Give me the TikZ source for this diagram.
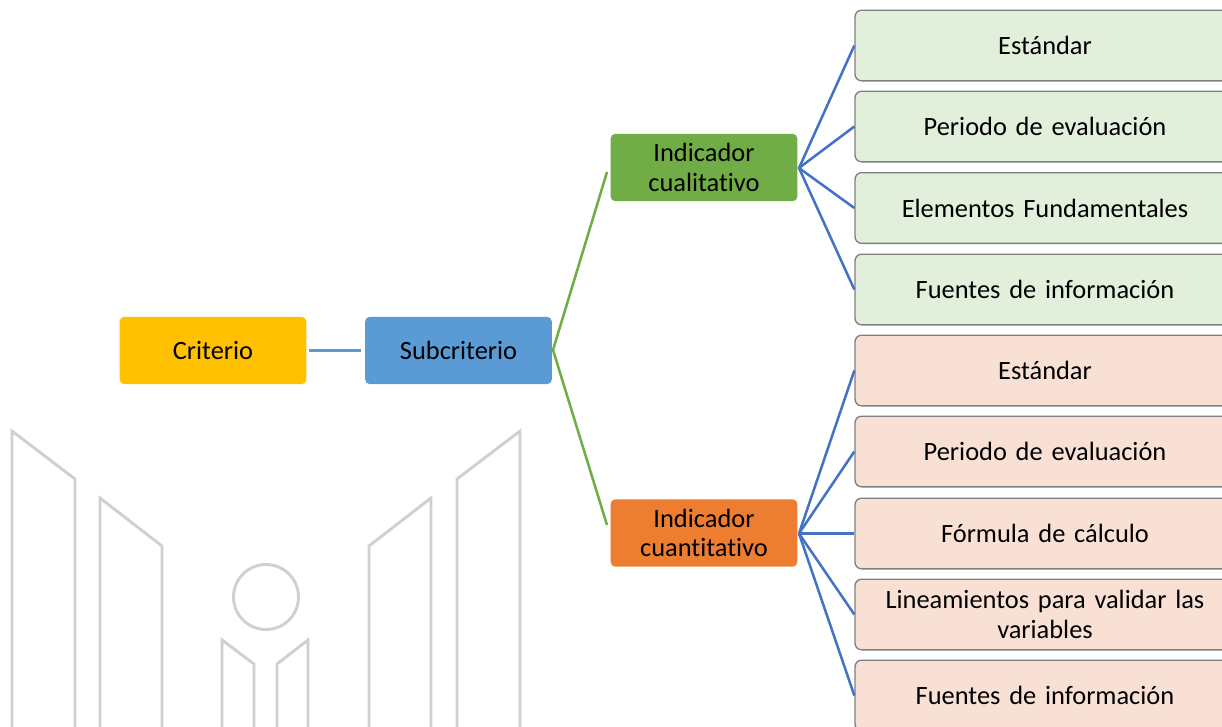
\documentclass[tikz,border=0pt]{standalone}
\usepackage{fontspec}
\setmainfont[Ligatures=CommonOff]{Carlito}
\newcommand{\boxfont}{\fontsize{19.8}{22.2}\selectfont\fontdimen2\font=3.4pt\relax}
\definecolor{logogray}{HTML}{D0D0D0}
\definecolor{linkblue}{HTML}{4472C4}
\definecolor{linkgreen}{HTML}{70AD47}
\definecolor{linksky}{HTML}{5B9BD5}
\definecolor{critfill}{HTML}{FFC000}
\definecolor{subfill}{HTML}{5B9BD5}
\definecolor{cualfill}{HTML}{70AD47}
\definecolor{cuanfill}{HTML}{ED7D31}
\definecolor{cualpale}{HTML}{E2EFDA}
\definecolor{cuanpale}{HTML}{F8E1D4}
\tikzset{
    mainbox/.style={rectangle, rounded corners=3.5, minimum width=140, minimum height=50.5, inner sep=0pt, align=center, font=\boxfont, text width=135},
    detailbox/.style={rectangle, rounded corners=5, draw=black!50, line width=1, minimum width=285, minimum height=53, inner sep=0pt, align=center, font=\boxfont, text width=250},
    logoline/.style={draw=logogray, line width=2.2},
    bluelink/.style={draw=linkblue, line width=1.9},
    greenlink/.style={draw=linkgreen, line width=1.9},
}
\begin{document}
\begin{tikzpicture}[x=0.75pt, y=-0.75pt, line join=miter]
    \useasboundingbox (0,0) rectangle (1222,726);

    % logo behind the diagram
    \draw[logoline] (12,740) -- (12,431) -- (75,479) -- (75,740);
    \draw[logoline] (100,740) -- (100,498) -- (162,546) -- (162,740);
    \draw[logoline] (369,740) -- (369,546) -- (431,498) -- (431,740);
    \draw[logoline] (457,740) -- (457,479) -- (520,431) -- (520,740);
    \draw[logoline] (222,740) -- (222,640) -- (254,664) -- (254,740);
    \draw[logoline] (277,740) -- (277,664) -- (308,640) -- (308,740);
    \draw[logoline] (266,597) circle (32.5);

    \node[mainbox, fill=critfill] (crit) at (213,350.5) {Criterio};
    \node[mainbox, fill=subfill] (sub) at (458.5,350.5) {Subcriterio};
    \node[mainbox, fill=cualfill] (cual) at (704,167.5) {Indicador\\cualitativo};
    \node[mainbox, fill=cuanfill] (cuan) at (704,533) {Indicador\\cuantitativo};

    \node[detailbox, fill=cualpale] (q1) at (1045,45.5) {Estándar};
    \node[detailbox, fill=cualpale] (q2) at (1045,126.5) {Periodo de evaluación};
    \node[detailbox, fill=cualpale] (q3) at (1045,208) {Elementos Fundamentales};
    \node[detailbox, fill=cualpale] (q4) at (1045,289.5) {Fuentes de información};

    \node[detailbox, fill=cuanpale] (n1) at (1045,370.5) {Estándar};
    \node[detailbox, fill=cuanpale] (n2) at (1045,451.5) {Periodo de evaluación};
    \node[detailbox, fill=cuanpale] (n3) at (1045,533.5) {Fórmula de cálculo};
    \node[detailbox, fill=cuanpale] (n4) at (1045,614.5) {Lineamientos para validar las\\variables};
    \node[detailbox, fill=cuanpale] (n5) at (1045,695.5) {Fuentes de información};

    \coordinate (subout) at (553,350);
    \coordinate (cualin) at (607,172);
    \coordinate (cuanin) at (607,525);
    \coordinate (cualout) at (799,168);
    \coordinate (cuanout) at (799,533.5);

    \draw[draw=linksky, line width=1.9, shorten <=1.5, shorten >=3] (crit) -- (sub);
    \path[greenlink] (subout) edge (cualin) edge (cuanin);

    \foreach \i in {q1,q2,q3,q4}
        \draw[bluelink] (cualout) -- (\i.west);
    \foreach \i in {n1,n2,n3,n4,n5}
        \draw[bluelink] (cuanout) -- (\i.west);
\end{tikzpicture}
\end{document}
